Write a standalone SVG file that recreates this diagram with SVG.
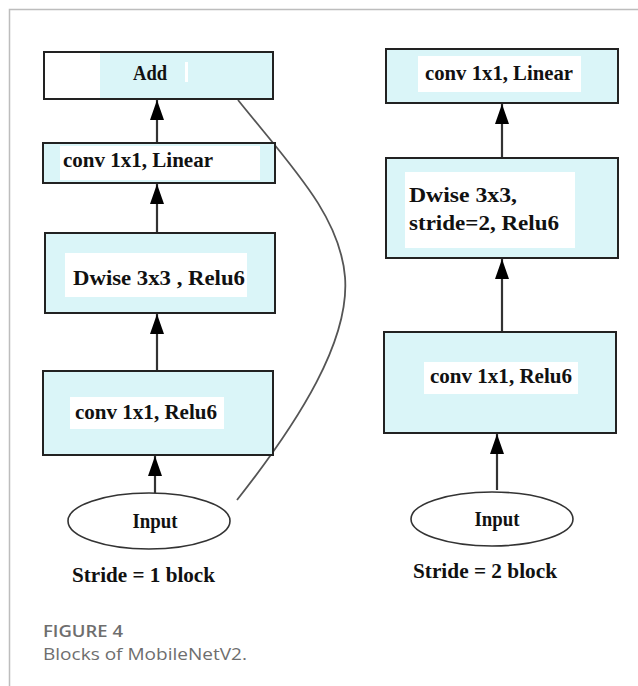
<svg xmlns="http://www.w3.org/2000/svg" width="638" height="686" viewBox="0 0 638 686">
<style>
.box{fill:#daf5f8;stroke:#222;stroke-width:2}
.hl{fill:#ffffff}
.t{font-family:"Liberation Serif","Times New Roman",serif;font-weight:bold;font-size:21px;fill:#111}
.ell{fill:#fff;stroke:#333;stroke-width:1.6}
.arr{stroke:#333;stroke-width:2.2;fill:none}
.cap{font-family:"Open Sans","Noto Sans",sans-serif;fill:#6e6e6e}
</style>
<defs>
<marker id="ah" markerWidth="20" markerHeight="14" refX="20" refY="7" orient="auto" markerUnits="userSpaceOnUse" viewBox="0 0 20 14">
<path d="M0,0 L20,7 L0,14 Z" fill="#000"/>
</marker>
</defs>
<rect width="638" height="686" fill="#fff"/>
<path d="M9.5,686 V9.5 H638" fill="none" stroke="#bdbdbd" stroke-width="1.5"/>

<g id="connectors">
<line class="arr" x1="157" y1="143" x2="157" y2="100" marker-end="url(#ah)"/>
<line class="arr" x1="157" y1="233" x2="157" y2="184" marker-end="url(#ah)"/>
<line class="arr" x1="157" y1="371" x2="157" y2="314" marker-end="url(#ah)"/>
<line class="arr" x1="155" y1="493" x2="155" y2="456" marker-end="url(#ah)"/>
<path d="M237,500 C300,420 350,340 345,277 C340,215 290,165 238,100" fill="none" stroke="#555" stroke-width="1.8"/>
<line class="arr" x1="502" y1="158" x2="502" y2="104" stroke-width="3" marker-end="url(#ah)"/>
<line class="arr" x1="502" y1="332" x2="502" y2="259" stroke-width="3" marker-end="url(#ah)"/>
<line class="arr" x1="497" y1="490" x2="497" y2="434" marker-end="url(#ah)"/>
</g>

<g id="add">
<rect class="box" x="44" y="52" width="229" height="47"/>
<rect class="hl" x="45" y="53" width="55" height="45"/>
<rect class="hl" x="185" y="62" width="3" height="20"/>
<text class="t" x="150" y="80" text-anchor="middle" textLength="34" lengthAdjust="spacingAndGlyphs">Add</text>
</g>

<g id="conv-linear-1">
<rect class="box" x="43" y="143" width="232" height="40"/>
<rect class="hl" x="60" y="146" width="200" height="34"/>
<text class="t" x="63" y="167" textLength="150" lengthAdjust="spacingAndGlyphs">conv 1x1, Linear</text>
</g>

<g id="dwise-1">
<rect class="box" x="45" y="233" width="230" height="80"/>
<rect class="hl" x="65" y="253" width="182" height="44"/>
<text class="t" x="73" y="285" textLength="172" lengthAdjust="spacingAndGlyphs">Dwise 3x3 , Relu6</text>
</g>

<g id="conv-relu-1">
<rect class="box" x="43" y="371" width="230" height="84"/>
<rect class="hl" x="70" y="397" width="154" height="32"/>
<text class="t" x="75" y="419" textLength="142" lengthAdjust="spacingAndGlyphs">conv 1x1, Relu6</text>
</g>

<g id="input-1">
<ellipse class="ell" cx="149" cy="521" rx="81" ry="28"/>
<text class="t" x="155" y="528" text-anchor="middle" textLength="45" lengthAdjust="spacingAndGlyphs">Input</text>
</g>
<text class="t" x="72" y="582" textLength="143" lengthAdjust="spacingAndGlyphs">Stride = 1 block</text>

<g id="conv-linear-2">
<rect class="box" x="386" y="49" width="232" height="54"/>
<rect class="hl" x="418" y="56" width="163" height="36"/>
<text class="t" x="425" y="80" textLength="148" lengthAdjust="spacingAndGlyphs">conv 1x1, Linear</text>
</g>

<g id="dwise-2">
<rect class="box" x="386" y="158" width="232" height="100"/>
<rect class="hl" x="405" y="172" width="170" height="76"/>
<text class="t" x="409" y="202" textLength="108" lengthAdjust="spacingAndGlyphs">Dwise 3x3,</text>
<text class="t" x="409" y="230" textLength="150" lengthAdjust="spacingAndGlyphs">stride=2, Relu6</text>
</g>

<g id="conv-relu-2">
<rect class="box" x="384" y="332" width="232" height="101"/>
<rect class="hl" x="424" y="362" width="154" height="32"/>
<text class="t" x="430" y="383" textLength="142" lengthAdjust="spacingAndGlyphs">conv 1x1, Relu6</text>
</g>

<g id="input-2">
<ellipse class="ell" cx="492" cy="519" rx="81" ry="27"/>
<text class="t" x="497" y="526" text-anchor="middle" textLength="45" lengthAdjust="spacingAndGlyphs">Input</text>
</g>
<text class="t" x="413" y="578" textLength="144" lengthAdjust="spacingAndGlyphs">Stride = 2 block</text>

<text class="cap" x="43" y="637" font-size="16.5" font-weight="600" textLength="80" lengthAdjust="spacingAndGlyphs">FIGURE 4</text>
<text class="cap" x="43" y="660" font-size="16.5" textLength="204" lengthAdjust="spacingAndGlyphs">Blocks of MobileNetV2.</text>
</svg>
